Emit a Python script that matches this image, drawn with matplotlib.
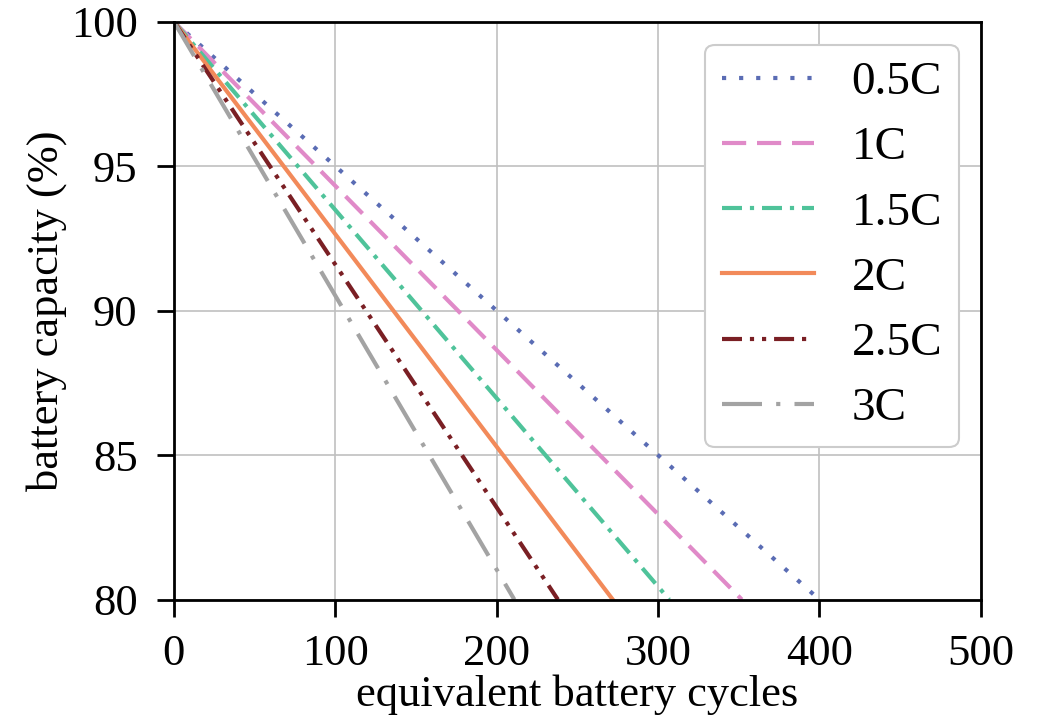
import matplotlib
matplotlib.use('Agg')
import matplotlib.pyplot as plt

plt.rcParams['font.family'] = ['Liberation Serif', 'DejaVu Serif']
plt.rcParams['mathtext.fontset'] = 'stix'

# C-rate labels and the cycle count at which each curve reaches 80 %
labels = ['0.5C', '1C', '1.5C', '2C', '2.5C', '3C']
end_cycles = [400, 352, 307, 272, 238, 211]
start_capacity = 100
end_capacity = 80

colors = ['#5a6cb4', '#e08ac8', '#4fc39a', '#f28a5a', '#7a1f24', '#a3a3a3']
styles = [(0, (1, 3.1)),
          (0, (5.8, 2.6)),
          (0, (4.8, 1.9, 1, 1.9)),
          '-',
          (0, (4.8, 1.9, 1, 1.9, 1, 1.9)),
          (0, (9.6, 3.4, 1, 3.4))]

fig = plt.figure(figsize=(10.41, 7.18), dpi=100)
ax = fig.add_axes([0.167, 0.165, 0.775, 0.805])

for lab, end, c, ls in zip(labels, end_cycles, colors, styles):
    ax.plot([0, end], [start_capacity, end_capacity], color=c, linestyle=ls,
            linewidth=3, label=lab)

ax.set_xlim(0, 500)
ax.set_ylim(80, 100)
ax.set_xticks([0, 100, 200, 300, 400, 500])
ax.set_yticks([80, 85, 90, 95, 100])
ax.grid(True, color='#c0c0c0', linewidth=1.2)
ax.set_axisbelow(True)
for s in ax.spines.values():
    s.set_linewidth(2)
ax.tick_params(direction='out', length=12, width=2, labelsize=32)
ax.tick_params(axis='y', pad=14)
ax.tick_params(axis='x', pad=13)
ax.set_xlabel('equivalent battery cycles', fontsize=32, labelpad=0)
ax.set_ylabel('battery capacity (%)', fontsize=32, labelpad=3)

leg = ax.legend(loc='upper right', fontsize=34, handlelength=1.95,
                borderpad=0.35, labelspacing=0.47, handletextpad=0.8,
                borderaxespad=0, framealpha=1, edgecolor='#cccccc',
                fancybox=True, bbox_to_anchor=(0.973, 0.96))
leg.get_frame().set_linewidth(1.5)

fig.savefig('out.png', dpi=100)
